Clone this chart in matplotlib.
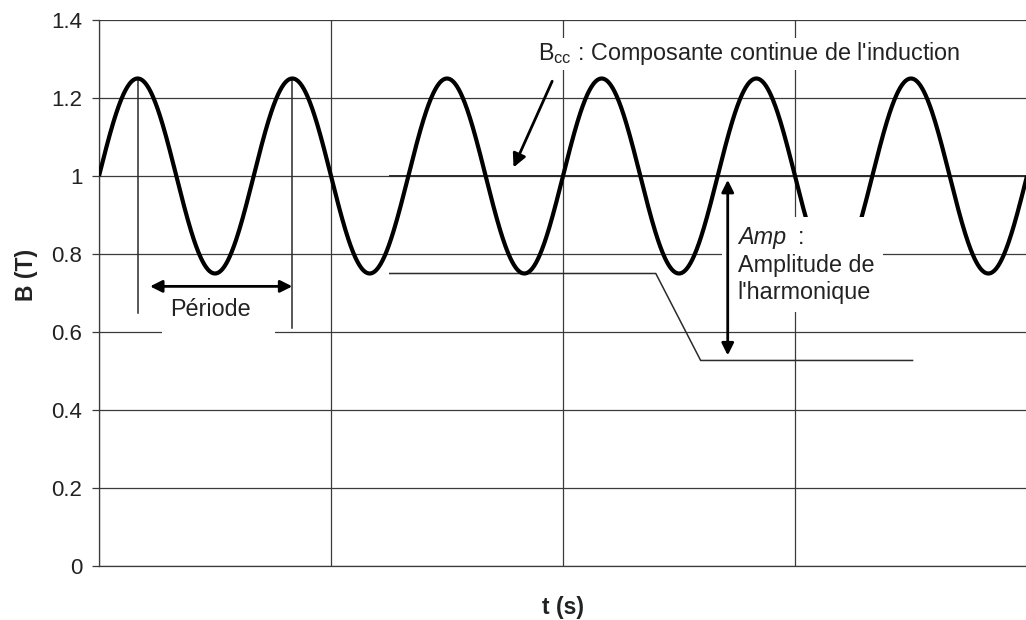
import matplotlib
matplotlib.use("Agg")
import matplotlib.pyplot as plt
from matplotlib.patches import Rectangle
import numpy as np

plt.rcParams['font.family'] = ['Liberation Sans', 'DejaVu Sans']
plt.rcParams['mathtext.fontset'] = 'custom'
plt.rcParams['mathtext.rm'] = 'Liberation Sans'
plt.rcParams['mathtext.it'] = 'Liberation Sans:italic'

# signal shown in the figure: B(t) = Bcc + Amp * sin(2*pi*t/T)
B_cc = 1.0          # composante continue (T)
amp = 0.25          # amplitude de l'harmonique (T)
n_periods = 6       # periodes visibles
y_ticks = [0, 0.2, 0.4, 0.6, 0.8, 1.0, 1.2, 1.4]
y_ticklabels = ['0', '0.2', '0.4', '0.6', '0.8', '1', '1.2', '1.4']
x_grid = [0, 1.5, 3, 4.5, 6]   # t in periods

dark = '#2b2b2b'
grid_c = '#3a3a3a'
fs = 16.8

t = np.linspace(0, n_periods, 2000)
B = B_cc + amp * np.sin(2 * np.pi * t)

fig = plt.figure(figsize=(10.26, 6.2), dpi=100)
ax = fig.add_axes([99 / 1026, 54 / 620, 928 / 1026, 546 / 620])

ax.set_xlim(0, n_periods)
ax.set_ylim(0, 1.4)
ax.set_yticks(y_ticks)
ax.set_yticklabels(y_ticklabels)
ax.set_xticks(x_grid)
ax.set_xticklabels([])
ax.tick_params(axis='x', length=0)
ax.tick_params(axis='y', length=5, width=0.9, color=grid_c, pad=7, labelsize=16, labelcolor='#222')
ax.grid(True, color=grid_c, lw=0.9)
ax.set_axisbelow(True)
for s in ['top', 'right']:
    ax.spines[s].set_visible(False)
for s in ['left', 'bottom']:
    ax.spines[s].set_color(grid_c)
    ax.spines[s].set_linewidth(0.9)

# sinusoid
ax.plot(t, B, color='black', lw=3, zorder=3, solid_capstyle='butt')

# Bcc line (slightly heavier over the grid line)
ax.plot([1.88, n_periods], [B_cc, B_cc], color=dark, lw=1.4, zorder=2)

# mask behind the "Amp" text: hides grid and curve trough
ax.add_patch(Rectangle((4.03, 0.652), 1.04, 0.242, facecolor='white',
                       edgecolor='none', zorder=4))
# mask behind "Période"
ax.add_patch(Rectangle((0.41, 0.58), 0.73, 0.045, facecolor='white',
                       edgecolor='none', zorder=4))

# period markers
ax.plot([0.25, 0.25], [B_cc + amp, 0.65], color=dark, lw=1.1, zorder=2)
ax.plot([1.25, 1.25], [B_cc + amp, 0.61], color=dark, lw=1.1, zorder=2)
ax.annotate('', xy=(0.33, 0.717), xytext=(1.25, 0.717),
            arrowprops=dict(arrowstyle='<|-|>', color='black', lw=2,
                            mutation_scale=18, shrinkA=0, shrinkB=0), zorder=5)
ax.text(0.72, 0.657, 'Période', ha='center', va='center', fontsize=fs,
        color='#222', zorder=5)

# trough reference line to amplitude arrow
ax.plot([1.88, 3.6, 3.89, 5.26], [B_cc - amp, B_cc - amp, 0.527, 0.527],
        color=dark, lw=1.1, zorder=2)
ax.annotate('', xy=(4.065, 0.54), xytext=(4.065, 0.99),
            arrowprops=dict(arrowstyle='<|-|>', color='black', lw=2,
                            mutation_scale=18, shrinkA=0, shrinkB=0), zorder=5)
ax.text(4.13, 0.843, 'Amp', style='italic', ha='left', va='center',
        fontsize=fs, color='#222', zorder=5)
ax.text(4.52, 0.843, ':', ha='left', va='center', fontsize=fs,
        color='#222', zorder=5)
ax.text(4.13, 0.771, 'Amplitude de', ha='left', va='center', fontsize=fs,
        color='#222', zorder=5)
ax.text(4.13, 0.701, "l'harmonique", ha='left', va='center', fontsize=fs,
        color='#222', zorder=5)

# Bcc label and arrow
ax.text(2.84, 1.313, r"B$_{\rm cc}$ : Composante continue de l'induction",
        ha='left', va='center', fontsize=fs, color='#222', zorder=5,
        bbox=dict(facecolor='white', edgecolor='none', pad=2))
ax.annotate('', xy=(2.68, 1.022), xytext=(2.93, 1.243),
            arrowprops=dict(arrowstyle='-|>', color='black', lw=2,
                            mutation_scale=20, shrinkA=0, shrinkB=0), zorder=5)

ax.set_ylabel('B (T)', fontsize=16.5, fontweight='bold', color='#222')
ax.yaxis.set_label_coords(-0.066, 0.533)
ax.set_xlabel('t (s)', fontsize=16.5, fontweight='bold', color='#222')
ax.xaxis.set_label_coords(0.5, -0.055)

fig.savefig('out.png', dpi=100)
